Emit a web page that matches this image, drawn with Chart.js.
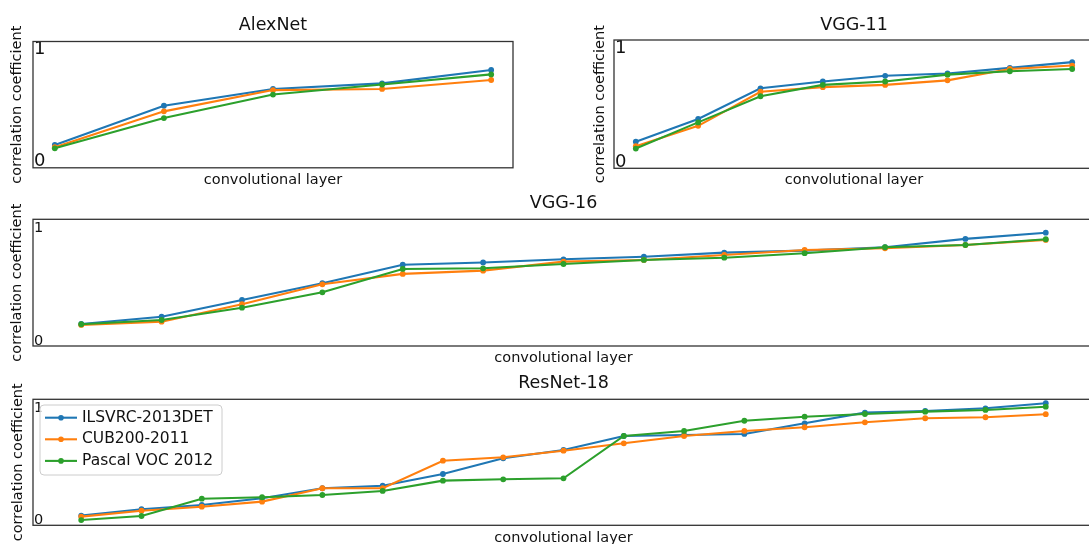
<!DOCTYPE html>
<html>
<head>
<meta charset="utf-8">
<script src="https://cdn.jsdelivr.net/npm/chart.js@4.4.1/dist/chart.umd.min.js"></script>
<style>
html,body{margin:0;padding:0;background:#ffffff;overflow:hidden;width:1089px;height:544px;}
canvas{position:absolute;}
</style>
</head>
<body>
<canvas id="alexnet"></canvas>
<canvas id="vgg11"></canvas>
<canvas id="vgg16"></canvas>
<canvas id="resnet18"></canvas>
<script>
// ---- data ----
const seriesNames = ['ILSVRC-2013DET', 'CUB200-2011', 'Pascal VOC 2012'];
const seriesColors = ['#1f77b4', '#ff7f0e', '#2ca02c'];
const yTickValues = [0, 1];

const alexnetLayers = [1, 2, 3, 4, 5];
const alexnetILSVRC = [0.15, 0.50, 0.65, 0.70, 0.82];
const alexnetCUB    = [0.13, 0.45, 0.64, 0.65, 0.73];
const alexnetVOC    = [0.12, 0.39, 0.60, 0.69, 0.78];

const vgg11Layers = [1, 2, 3, 4, 5, 6, 7, 8];
const vgg11ILSVRC = [0.18, 0.38, 0.65, 0.71, 0.76, 0.78, 0.83, 0.88];
const vgg11CUB    = [0.14, 0.32, 0.62, 0.66, 0.68, 0.72, 0.82, 0.85];
const vgg11VOC    = [0.12, 0.35, 0.58, 0.68, 0.71, 0.77, 0.80, 0.82];

const vgg16Layers = [1, 2, 3, 4, 5, 6, 7, 8, 9, 10, 11, 12, 13];
const vgg16ILSVRC = [0.154, 0.218, 0.367, 0.515, 0.680, 0.700, 0.728, 0.751, 0.787, 0.805, 0.835, 0.909, 0.964];
const vgg16CUB    = [0.145, 0.174, 0.329, 0.506, 0.598, 0.627, 0.707, 0.722, 0.766, 0.811, 0.826, 0.855, 0.900];
const vgg16VOC    = [0.151, 0.189, 0.298, 0.435, 0.642, 0.648, 0.686, 0.722, 0.742, 0.782, 0.835, 0.855, 0.906];

const resnet18Layers = [1, 2, 3, 4, 5, 6, 7, 8, 9, 10, 11, 12, 13, 14, 15, 16, 17];
const resnet18ILSVRC = [0.043, 0.100, 0.138, 0.198, 0.287, 0.310, 0.414, 0.554, 0.628, 0.753, 0.762, 0.771, 0.866, 0.961, 0.976, 1.000, 1.045];
const resnet18CUB    = [0.034, 0.087, 0.123, 0.168, 0.287, 0.287, 0.533, 0.563, 0.622, 0.688, 0.753, 0.798, 0.831, 0.875, 0.911, 0.920, 0.947];
const resnet18VOC    = [0.004, 0.040, 0.194, 0.207, 0.227, 0.263, 0.355, 0.367, 0.376, 0.753, 0.798, 0.889, 0.925, 0.949, 0.970, 0.985, 1.014];

// ---- styling ----
const FONT = "'DejaVu Sans', 'Liberation Sans', sans-serif";
const TEXT = '#111111';
const TITLE_SIZE = 17.5, AXIS_SIZE = 14.5;

const framePlugin = {
  id: 'frame',
  afterDatasetsDraw(chart) {
    const {ctx, chartArea: a} = chart;
    ctx.save();
    ctx.strokeStyle = '#333333';
    ctx.lineWidth = 1.3;
    ctx.strokeRect(a.left, a.top, a.right - a.left, a.bottom - a.top);
    ctx.restore();
  }
};

const innerLegendPlugin = {
  id: 'innerLegend',
  afterDraw(chart, args, opts) {
    if (!opts || !opts.show) return;
    const {ctx, chartArea: a} = chart;
    const x0 = a.left + 7, y0 = a.top + 5.7, w = 182, h = 70, r = 4;
    ctx.save();
    ctx.beginPath();
    ctx.moveTo(x0 + r, y0);
    ctx.lineTo(x0 + w - r, y0);
    ctx.arcTo(x0 + w, y0, x0 + w, y0 + r, r);
    ctx.lineTo(x0 + w, y0 + h - r);
    ctx.arcTo(x0 + w, y0 + h, x0 + w - r, y0 + h, r);
    ctx.lineTo(x0 + r, y0 + h);
    ctx.arcTo(x0, y0 + h, x0, y0 + h - r, r);
    ctx.lineTo(x0, y0 + r);
    ctx.arcTo(x0, y0, x0 + r, y0, r);
    ctx.closePath();
    ctx.fillStyle = 'rgba(255,255,255,0.8)';
    ctx.fill();
    ctx.strokeStyle = '#cccccc';
    ctx.lineWidth = 1;
    ctx.stroke();
    chart.data.datasets.forEach((ds, i) => {
      const yy = y0 + 12.7 + i * 21.6;
      ctx.strokeStyle = ds.borderColor;
      ctx.lineWidth = 2.1;
      ctx.beginPath();
      ctx.moveTo(x0 + 5, yy);
      ctx.lineTo(x0 + 37, yy);
      ctx.stroke();
      ctx.fillStyle = ds.borderColor;
      ctx.beginPath();
      ctx.arc(x0 + 21, yy, 2.8, 0, Math.PI * 2);
      ctx.fill();
      ctx.fillStyle = TEXT;
      ctx.font = '15.5px ' + FONT;
      ctx.textBaseline = 'middle';
      ctx.textAlign = 'left';
      ctx.fillText(ds.label, x0 + 42, yy);
    });
    ctx.restore();
  }
};

function makeDatasets(layers, seriesList) {
  return seriesList.map((vals, i) => ({
    label: seriesNames[i],
    data: vals.map((v, k) => ({x: layers[k], y: v})),
    borderColor: seriesColors[i],
    backgroundColor: seriesColors[i],
    pointBackgroundColor: seriesColors[i],
    pointBorderWidth: 0,
    pointRadius: 2.9,
    borderWidth: 2.1,
    tension: 0,
    order: seriesList.length - 1 - i
  }));
}

function panel(id, geo, title, layers, seriesList, showLegend) {
  const cv = document.getElementById(id);
  const cw = Math.round(geo.R - geo.cl), ch = geo.ch;
  cv.width = cw; cv.height = ch;
  cv.style.left = geo.cl + 'px'; cv.style.top = geo.ct + 'px';
  cv.style.width = cw + 'px'; cv.style.height = ch + 'px';
  const tLh = TITLE_SIZE * 1.2, aLh = AXIS_SIZE * 1.2;
  const span = layers[layers.length - 1] - layers[0];
  const xMin = layers[0] - 0.05 * span, xMax = layers[layers.length - 1] + 0.05 * span;
  const titlePadTop = geo.titleY - geo.ct - tLh / 2;
  const titlePadBottom = geo.T - geo.ct - titlePadTop - tLh;
  const yWidth = geo.L - geo.cl;
  const yTitlePad = geo.yTitleX - geo.cl - aLh / 2;
  const xHeight = (geo.ct + ch) - geo.B;
  const xTitlePad = (geo.ct + ch) - geo.xTitleY - aLh / 2;

  return new Chart(cv, {
    type: 'line',
    data: { datasets: makeDatasets(layers, seriesList) },
    plugins: [framePlugin, innerLegendPlugin],
    options: {
      responsive: false,
      animation: false,
      devicePixelRatio: 1,
      layout: { padding: 0 },
      plugins: {
        legend: { display: false },
        tooltip: { enabled: false },
        innerLegend: { show: showLegend },
        title: {
          display: true, text: title, fullSize: false, color: TEXT,
          font: { family: FONT, size: TITLE_SIZE, weight: 'normal', lineHeight: 1.2 },
          padding: { top: titlePadTop, bottom: titlePadBottom }
        }
      },
      scales: {
        x: {
          type: 'linear', min: xMin, max: xMax,
          grid: { display: false, drawTicks: false },
          border: { display: false },
          ticks: { display: false },
          title: {
            display: true, text: 'convolutional layer', color: TEXT,
            font: { family: FONT, size: AXIS_SIZE, lineHeight: 1.2 },
            padding: { top: 0, bottom: xTitlePad }
          },
          afterFit(s) { s.height = xHeight; }
        },
        y: {
          type: 'linear', min: geo.yMin, max: geo.yMax,
          grid: { display: false, drawTicks: false },
          border: { display: false },
          afterBuildTicks(s) { s.ticks = yTickValues.map(v => ({value: v})); },
          ticks: {
            mirror: true, padding: 1, color: TEXT,
            font: { family: FONT, size: geo.tick },
            callback: (v) => String(v)
          },
          title: {
            display: true, text: 'correlation coefficient', color: TEXT,
            font: { family: FONT, size: AXIS_SIZE, lineHeight: 1.2 },
            padding: { top: yTitlePad, bottom: 0 }
          },
          afterFit(s) { s.width = yWidth; }
        }
      }
    }
  });
}

panel('alexnet',
  {cl: 0, ct: 0, ch: 191, L: 33, R: 517, T: 41.5, B: 167.8, titleY: 25, xTitleY: 180, yTitleX: 17, yMin: -0.054, yMax: 1.074, tick: 18},
  'AlexNet', alexnetLayers, [alexnetILSVRC, alexnetCUB, alexnetVOC], false);

panel('vgg11',
  {cl: 560, ct: 0, ch: 191, L: 614, R: 1098, T: 40, B: 168.3, titleY: 25.5, xTitleY: 180, yTitleX: 600, yMin: -0.054, yMax: 1.075, tick: 18},
  'VGG-11', vgg11Layers, [vgg11ILSVRC, vgg11CUB, vgg11VOC], false);

panel('vgg16',
  {cl: 0, ct: 186, ch: 183, L: 33, R: 1098, T: 219.3, B: 346, titleY: 203.5, xTitleY: 358, yTitleX: 17.5, yMin: -0.042, yMax: 1.083, tick: 14.5},
  'VGG-16', vgg16Layers, [vgg16ILSVRC, vgg16CUB, vgg16VOC], false);

panel('resnet18',
  {cl: 0, ct: 369, ch: 180, L: 33, R: 1098, T: 399.3, B: 525.3, titleY: 383, xTitleY: 538.5, yTitleX: 18, yMin: -0.043, yMax: 1.08, tick: 14.5},
  'ResNet-18', resnet18Layers, [resnet18ILSVRC, resnet18CUB, resnet18VOC], true);
</script>
</body>
</html>
